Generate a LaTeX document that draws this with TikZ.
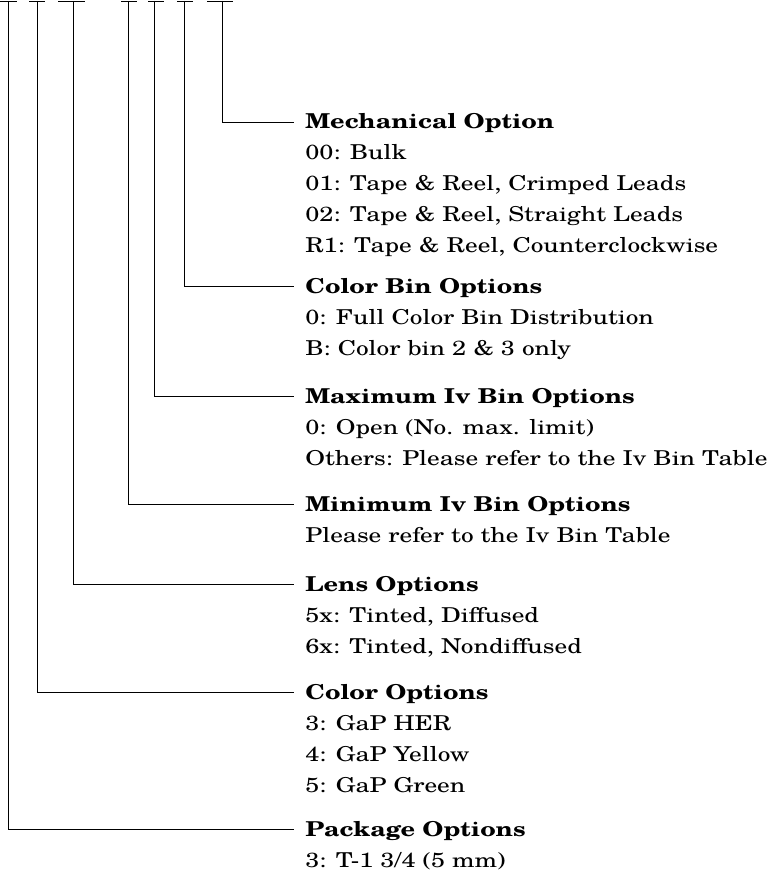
\documentclass[tikz,border=0pt]{standalone}
\usepackage{fontspec}
\setmainfont{texgyreschola}[Extension=.otf, UprightFont=*-regular, BoldFont=*-bold, FakeStretch=1.235]
\usetikzlibrary{calc}

\newcommand{\optlist}[2]{\begin{tabular}[t]{@{}l@{}}\textbf{#1}\\#2\end{tabular}}

\begin{document}
\begin{tikzpicture}[x=1pt, y=-1pt, line width=0.8pt,
		opt/.style={anchor=base west, inner xsep=11pt, inner ysep=0pt, font=\fontsize{20.5}{31}\selectfont}]
		\def\ax{7pt};
		\useasboundingbox (0,0) rectangle (766,874);
		
		% the fields of the part number
		\foreach \n/\x/\l/\r in {pkg/8/0/17, col/37/29/45, lens/73/58/85, ivmin/128/121/137, ivmax/154/148/164, bin/184/177/193, mech/222/207/233}{
			\coordinate (\n top) at (\x,1);
			\draw (\l,1) -- (\r,1);
		}
		
		\node[opt] (mech) at (294,129) {\optlist{Mechanical Option}{00: Bulk\\01: Tape \& Reel, Crimped Leads\\02: Tape \& Reel, Straight Leads\\R1: Tape \& Reel, Counterclockwise}};
		\node[opt] (bin) at (294,293) {\optlist{Color Bin Options}{0: Full Color Bin Distribution\\B: Color bin 2 \& 3 only}};
		\node[opt] (ivmax) at (294,403) {\optlist{Maximum Iv Bin Options}{0: Open (No. max. limit)\\Others: Please refer to the Iv Bin Table}};
		\node[opt] (ivmin) at (294,511) {\optlist{Minimum Iv Bin Options}{Please refer to the Iv Bin Table}};
		\node[opt] (lens) at (294,591) {\optlist{Lens Options}{5x: Tinted, Diffused\\6x: Tinted, Nondiffused}};
		\node[opt] (col) at (294,699) {\optlist{Color Options}{3: GaP HER\\4: GaP Yellow\\5: GaP Green}};
		\node[opt] (pkg) at (294,836) {\optlist{Package Options}{3: T-1 3/4 (5 mm)}};
		
		\foreach \n in {mech, bin, ivmax, ivmin, lens, col, pkg}
			\draw (\n top) |- ([yshift=\ax]\n.base west);
	\end{tikzpicture}
\end{document}
